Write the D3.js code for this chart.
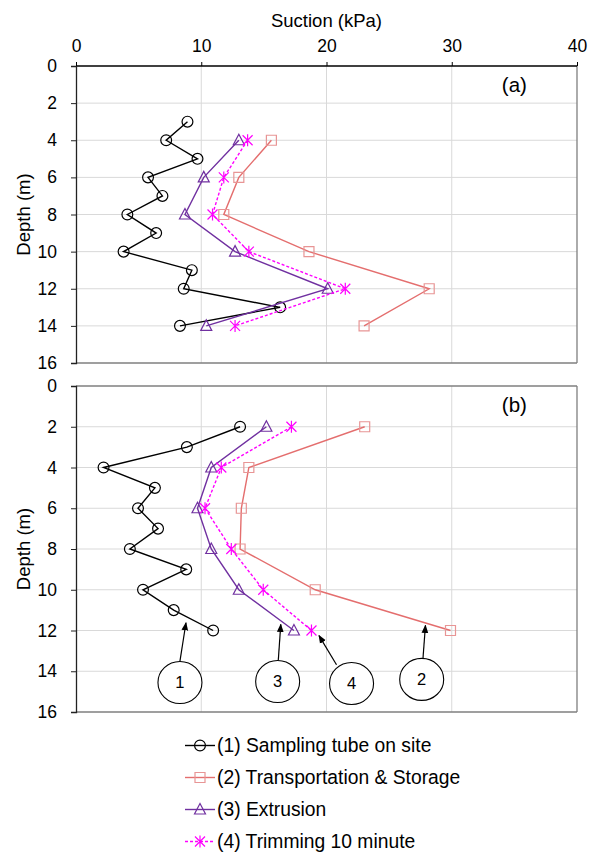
<!DOCTYPE html>
<html>
<head>
<meta charset="utf-8">
<title>Suction profiles</title>
<script src="https://d3js.org/d3.v7.min.js"></script>
<style>
  body { margin: 0; background: #fff; }
  svg text { font-family: "Liberation Sans", Arial, sans-serif; fill: #000; }
</style>
</head>
<body>
<div id="chart"></div>
<script>
// depths (m) for each panel
var depthA = [3, 4, 5, 6, 7, 8, 9, 10, 11, 12, 13, 14];
var depthA2 = [4, 6, 8, 10, 12, 14];
var depthB = [2, 3, 4, 5, 6, 7, 8, 9, 10, 11, 12];
var depthB2 = [2, 4, 6, 8, 10, 12];

// panel (a) suction (kPa)
var samplingA = [8.9, 7.2, 9.7, 5.75, 6.9, 4.1, 6.4, 3.8, 9.25, 8.6, 16.3, 8.3];
var transportA = [15.6, 13.0, 11.8, 18.6, 28.2, 23.0];
var extrusionA = [13.0, 10.2, 8.7, 12.7, 20.1, 10.4];
var trimmingA = [13.7, 11.8, 10.9, 13.8, 21.5, 12.7];

// panel (b) suction (kPa)
var samplingB = [13.1, 8.85, 2.2, 6.3, 4.95, 6.55, 4.3, 8.8, 5.35, 7.8, 10.95];
var transportB = [23.05, 13.8, 13.2, 13.1, 19.1, 29.9];
var extrusionB = [15.2, 10.8, 9.7, 10.8, 13.0, 17.4];
var trimmingB = [17.2, 11.6, 10.3, 12.4, 14.95, 18.8];

var seriesNames = ["(1) Sampling tube on site", "(2) Transportation & Storage",
                   "(3) Extrusion", "(4) Trimming 10 minute"];
var xTicks = [0, 10, 20, 30, 40];
var yTicks = [0, 2, 4, 6, 8, 10, 12, 14, 16];

// callouts in panel (b): label, ellipse centre, arrow start, arrow end (kPa, m)
var callLabel = ["1", "3", "4", "2"];
var callX = [8.3, 16.1, 22.0, 27.6];
var callY = [14.55, 14.5, 14.6, 14.4];
var arrowFrom = [[8.3, 13.5], [16.15, 13.47], [20.8, 13.68], [27.7, 13.4]];
var arrowTo = [[8.78, 11.62], [16.35, 11.7], [19.4, 12.25], [27.9, 11.75]];

var styles = [
  { line: "#000000", mark: "#000000", dash: null, shape: "circle" },
  { line: "#e46e6e", mark: "#e89595", dash: null, shape: "square" },
  { line: "#7030a0", mark: "#7030a0", dash: null, shape: "triangle" },
  { line: "#ff00ff", mark: "#ff00ff", dash: "3,2", shape: "star" }
];

var W = 595, H = 854;
var svg = d3.select("#chart").append("svg").attr("width", W).attr("height", H);

var x = d3.scaleLinear().domain([0, 40]).range([76, 577]);

function markerPath(shape) {
  if (shape == "circle") return d3.symbol(d3.symbolCircle, 92)();
  if (shape == "square") return "M-5,-5H5V5H-5Z";
  if (shape == "triangle") return "M0,-6L5.5,4.5H-5.5Z";
  return "M-5,-5L5,5M5,-5L-5,5M0,-6V6";
}

function drawPanel(y, rows, label, topAxis) {
  var g = svg.append("g");
  var x0 = x.range()[0], x1 = x.range()[1];
  var y0 = y.range()[0], y1 = y.range()[1];

  // grid
  g.selectAll(".vg").data(xTicks.slice(1, -1)).enter().append("line")
    .attr("x1", function(d) { return x(d); }).attr("x2", function(d) { return x(d); })
    .attr("y1", y0).attr("y2", y1).attr("stroke", "#d9d9d9").attr("stroke-width", 1);
  g.selectAll(".hg").data(yTicks.slice(1, -1)).enter().append("line")
    .attr("x1", x0).attr("x2", x1)
    .attr("y1", function(d) { return y(d); }).attr("y2", function(d) { return y(d); })
    .attr("stroke", "#d9d9d9").attr("stroke-width", 1);

  // frame
  g.append("line").attr("x1", x1).attr("x2", x1).attr("y1", y0).attr("y2", y1)
    .attr("stroke", "#7f7f7f").attr("stroke-width", 1.3);
  g.append("line").attr("x1", x0).attr("x2", x1).attr("y1", y1).attr("y2", y1)
    .attr("stroke", "#7f7f7f").attr("stroke-width", 1.3);
  g.append("line").attr("x1", x0).attr("x2", x1).attr("y1", y0).attr("y2", y0)
    .attr("stroke", topAxis ? "#000" : "#7f7f7f").attr("stroke-width", 1.3);

  // left axis
  var ya = g.append("g").attr("transform", "translate(" + x0 + ",0)")
    .call(d3.axisLeft(y).tickValues(yTicks).tickSize(5).tickPadding(14));
  ya.select(".domain").attr("stroke", "#222").attr("stroke-width", 1.3);
  ya.selectAll(".tick line").attr("stroke", "#222");
  ya.selectAll("text").style("font-size", "17.5px")
    .style("font-family", "'Liberation Sans', Arial, sans-serif").attr("fill", "#000");

  if (topAxis) {
    var xa = g.append("g").attr("transform", "translate(0," + y0 + ")")
      .call(d3.axisTop(x).tickValues(xTicks).tickSize(4).tickPadding(10));
    xa.select(".domain").remove();
    xa.selectAll(".tick line").attr("stroke", "#000");
    xa.selectAll("text").style("font-size", "17.5px")
      .style("font-family", "'Liberation Sans', Arial, sans-serif").attr("fill", "#000");
    svg.append("text").attr("x", (x0 + x1) / 2).attr("y", 27)
      .attr("text-anchor", "middle").style("font-size", "18.5px").text("Suction (kPa)");
  }

  svg.append("text")
    .attr("transform", "translate(30," + ((y0 + y1) / 2) + ") rotate(-90)")
    .attr("text-anchor", "middle").style("font-size", "18.5px").text("Depth (m)");

  svg.append("text").attr("x", x(35)).attr("y", y0 + 26)
    .attr("text-anchor", "middle").style("font-size", "20.5px").text(label);

  // series
  rows.forEach(function(r, i) {
    var st = styles[i];
    var pts = r.vals.map(function(v, k) { return [v, r.depth[k]]; });
    g.append("path").datum(pts)
      .attr("fill", "none").attr("stroke", st.line).attr("stroke-width", 1.4)
      .attr("stroke-dasharray", st.dash)
      .attr("d", d3.line().x(function(d) { return x(d[0]); }).y(function(d) { return y(d[1]); }));
    g.selectAll(".m" + i).data(pts).enter().append("path")
      .attr("transform", function(d) { return "translate(" + x(d[0]) + "," + y(d[1]) + ")"; })
      .attr("d", markerPath(st.shape))
      .attr("fill", "none").attr("stroke", st.mark).attr("stroke-width", 1.2);
  });
  return g;
}

var yA = d3.scaleLinear().domain([0, 16]).range([66, 363]);
var yB = d3.scaleLinear().domain([0, 16]).range([386, 712]);

drawPanel(yA, [
  { depth: depthA, vals: samplingA },
  { depth: depthA2, vals: transportA },
  { depth: depthA2, vals: extrusionA },
  { depth: depthA2, vals: trimmingA }
], "(a)", true);

var gB = drawPanel(yB, [
  { depth: depthB, vals: samplingB },
  { depth: depthB2, vals: transportB },
  { depth: depthB2, vals: extrusionB },
  { depth: depthB2, vals: trimmingB }
], "(b)", false);

// callouts
svg.append("defs").append("marker")
  .attr("id", "arr").attr("viewBox", "0 0 10 10").attr("refX", 9).attr("refY", 5)
  .attr("markerWidth", 7).attr("markerHeight", 7).attr("orient", "auto")
  .append("path").attr("d", "M0,1L10,5L0,9Z").attr("fill", "#000");

callLabel.forEach(function(t, i) {
  gB.append("line")
    .attr("x1", x(arrowFrom[i][0])).attr("y1", yB(arrowFrom[i][1]))
    .attr("x2", x(arrowTo[i][0])).attr("y2", yB(arrowTo[i][1]))
    .attr("stroke", "#000").attr("stroke-width", 1.2).attr("marker-end", "url(#arr)");
  gB.append("ellipse").attr("cx", x(callX[i])).attr("cy", yB(callY[i]))
    .attr("rx", 22).attr("ry", 21).attr("fill", "#fff").attr("stroke", "#000").attr("stroke-width", 1.1);
  gB.append("text").attr("x", x(callX[i])).attr("y", yB(callY[i]) + 6)
    .attr("text-anchor", "middle").style("font-size", "16.5px").text(t);
});

// legend
var leg = svg.append("g");
seriesNames.forEach(function(name, i) {
  var st = styles[i];
  var cy = 745.5 + i * 32;
  leg.append("line").attr("x1", 185).attr("x2", 215).attr("y1", cy).attr("y2", cy)
    .attr("stroke", st.line).attr("stroke-width", 1.4).attr("stroke-dasharray", st.dash);
  leg.append("path").attr("transform", "translate(200," + cy + ")")
    .attr("d", markerPath(st.shape)).attr("fill", "none")
    .attr("stroke", st.mark).attr("stroke-width", 1.2);
  leg.append("text").attr("x", 217).attr("y", cy + 6.5)
    .style("font-size", "19.3px").text(name);
});
</script>
</body>
</html>
